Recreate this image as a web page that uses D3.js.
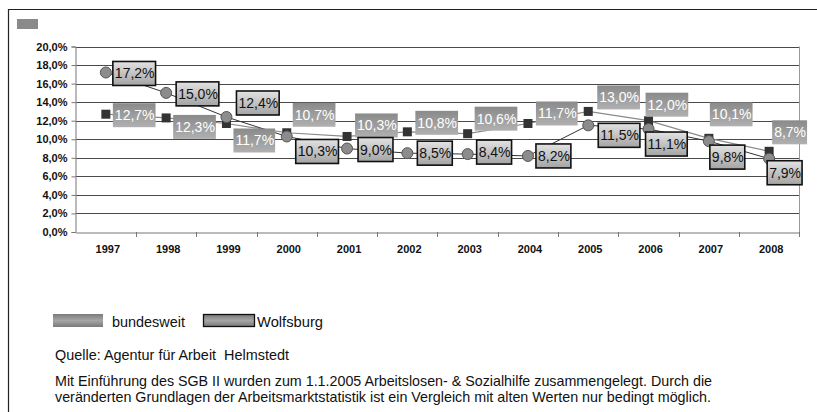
<!DOCTYPE html>
<html>
<head>
<meta charset="utf-8">
<script src="https://cdn.jsdelivr.net/npm/d3@7"></script>
<style>
  body { margin: 0; background: #fff; }
  svg { display: block; font-family: "Liberation Sans", Arial, sans-serif; }
  .tick text { font-weight: bold; font-size: 11px; fill: #111; }
</style>
</head>
<body>
<script>
// data
var years = ["1997", "1998", "1999", "2000", "2001", "2002", "2003", "2004", "2005", "2006", "2007", "2008"];
var bundesweit = [12.7, 12.3, 11.7, 10.7, 10.3, 10.8, 10.6, 11.7, 13.0, 12.0, 10.1, 8.7];
var wolfsburg = [17.2, 15.0, 12.4, 10.3, 9.0, 8.5, 8.4, 8.2, 11.5, 11.1, 9.8, 7.9];
var yTicks = [0, 2, 4, 6, 8, 10, 12, 14, 16, 18, 20];

// label placement (box left offset, box centre offset) in px
var bundLabelPos = [[7, 1], [7, 9], [7, 17], [6, -18], [8, -11], [8, -9], [7, -15], [8, -10], [9, -14], [-3, -16], [1, -24], [3, -19]];
var wolfLabelPos = [[7, 1], [10, 1], [10, -14], [9, 15], [11, 1], [10, 0], [9, -2], [8, 0], [10, 10], [-3, 15], [1, 16], [-2, 14]];

const w = 817;
const h = 412;

var svg = d3.select("body").append("svg")
  .attr("width", w)
  .attr("height", h);

var defs = svg.append("defs");
function grad(id, c1, c2) {
  var g = defs.append("linearGradient").attr("id", id)
    .attr("x1", 0).attr("y1", 0).attr("x2", 0).attr("y2", 1);
  g.append("stop").attr("offset", "0%").attr("stop-color", c1);
  g.append("stop").attr("offset", "100%").attr("stop-color", c2);
}
grad("gWolf", "#e2e2e2", "#a4a4a4");
grad("gBund", "#8a8a8a", "#b0b0b0");
var gs = defs.append("linearGradient").attr("id", "gSwatch")
  .attr("x1", 0).attr("y1", 0).attr("x2", 0).attr("y2", 1);
gs.append("stop").attr("offset", "0%").attr("stop-color", "#7a7a7a");
gs.append("stop").attr("offset", "50%").attr("stop-color", "#a6a6a6");
gs.append("stop").attr("offset", "100%").attr("stop-color", "#7a7a7a");

// outer frame (top and left edges only)
svg.append("path")
  .attr("d", "M8.5,412V9.5H817")
  .attr("fill", "none")
  .attr("stroke", "#222")
  .attr("stroke-width", 1.2);

svg.append("rect")
  .attr("x", 17).attr("y", 19).attr("width", 21).attr("height", 10)
  .attr("fill", "#8a8a8a");

var x = d3.scaleBand().domain(years).range([75.7, 799.3]);
var y = d3.scaleLinear().domain([0, 20]).range([232, 46.5]);

var de = d3.formatLocale({ decimal: ",", thousands: ".", grouping: [3], currency: ["", "€"] });
var pct = function (v) { return de.format(".1f")(v) + "%"; };

// grid
svg.append("g").selectAll("line").data(yTicks.slice(1)).join("line")
  .attr("x1", 75.7).attr("x2", 799.3)
  .attr("y1", function (d) { return Math.round(y(d)) + 0.5; })
  .attr("y2", function (d) { return Math.round(y(d)) + 0.5; })
  .attr("stroke", "#4a4a4a")
  .attr("stroke-width", 1);

svg.append("line")
  .attr("x1", 799.5).attr("x2", 799.5).attr("y1", y(20)).attr("y2", y(0))
  .attr("stroke", "#999");

// y axis
var yAxis = svg.append("g")
  .attr("transform", "translate(75.5,0)")
  .call(d3.axisLeft(y).tickValues(yTicks).tickSize(4).tickPadding(4)
    .tickFormat(function (d) { return pct(d); }));
yAxis.selectAll("path, line").attr("stroke", "#777");

// x axis
var xAxis = svg.append("g")
  .attr("transform", "translate(0,232.5)")
  .call(d3.axisBottom(x).tickSize(0).tickPadding(13));
xAxis.select("path").attr("stroke", "#777");
xAxis.selectAll("text").attr("dx", 2);
svg.append("g").selectAll("line").data(years).join("line")
  .attr("x1", function (d) { return Math.round(x(d) + x.bandwidth()) + 0.5; })
  .attr("x2", function (d) { return Math.round(x(d) + x.bandwidth()) + 0.5; })
  .attr("y1", 232).attr("y2", 237)
  .attr("stroke", "#777");

function px(i) { return x(years[i]) + x.bandwidth() / 2; }

var line = d3.line()
  .x(function (d, i) { return px(i); })
  .y(function (d) { return y(d); });

svg.append("path").datum(bundesweit)
  .attr("d", line).attr("fill", "none")
  .attr("stroke", "#8a8a8a").attr("stroke-width", 1.2);
svg.append("path").datum(wolfsburg)
  .attr("d", line).attr("fill", "none")
  .attr("stroke", "#333").attr("stroke-width", 1);

svg.append("g").selectAll("rect").data(bundesweit).join("rect")
  .attr("x", function (d, i) { return px(i) - 4.5; })
  .attr("y", function (d) { return y(d) - 4.5; })
  .attr("width", 9).attr("height", 9)
  .attr("fill", "#333");

svg.append("g").selectAll("circle").data(wolfsburg).join("circle")
  .attr("cx", function (d, i) { return px(i); })
  .attr("cy", function (d) { return y(d); })
  .attr("r", 5.5)
  .attr("fill", "#8c8c8c")
  .attr("stroke", "#555")
  .attr("stroke-width", 1);

// data labels
function labels(data, pos, fillId, textColor, border) {
  var g = svg.append("g").selectAll("g").data(data).join("g")
    .attr("transform", function (d, i) {
      return "translate(" + (px(i) + pos[i][0]) + "," + (y(d) + pos[i][1]) + ")";
    });
  g.append("text")
    .attr("x", 2).attr("y", 5)
    .attr("font-size", "14px")
    .attr("fill", textColor)
    .text(function (d) { return pct(d); });
  g.insert("rect", "text")
    .attr("x", 0).attr("y", -12)
    .attr("width", function () { return this.parentNode.querySelector("text").getComputedTextLength() + 3; })
    .attr("height", 24)
    .attr("fill", "url(#" + fillId + ")")
    .attr("stroke", border ? "#111" : "none")
    .attr("stroke-width", 1.6);
}
labels(bundesweit, bundLabelPos, "gBund", "#fff", false);
labels(wolfsburg, wolfLabelPos, "gWolf", "#111", true);

// legend
svg.append("rect")
  .attr("x", 53).attr("y", 314).attr("width", 50).attr("height", 13)
  .attr("fill", "url(#gSwatch)");
svg.append("text")
  .attr("x", 112).attr("y", 327)
  .attr("font-size", "15px").attr("fill", "#111")
  .attr("textLength", 73).attr("lengthAdjust", "spacingAndGlyphs")
  .text("bundesweit");
svg.append("rect")
  .attr("x", 203.5).attr("y", 314.5).attr("width", 51).attr("height", 12)
  .attr("fill", "url(#gSwatch)")
  .attr("stroke", "#111").attr("stroke-width", 1.3);
svg.append("text")
  .attr("x", 257).attr("y", 327)
  .attr("font-size", "15px").attr("fill", "#111")
  .attr("textLength", 66).attr("lengthAdjust", "spacingAndGlyphs")
  .text("Wolfsburg");

// notes
var notes = [
  ["Quelle: Agentur für Arbeit  Helmstedt", 360, 234],
  ["Mit Einführung des SGB II wurden zum 1.1.2005 Arbeitslosen- & Sozialhilfe zusammengelegt. Durch die", 386, 657],
  ["veränderten Grundlagen der Arbeitsmarktstatistik ist ein Vergleich mit alten Werten nur bedingt möglich.", 402, 656]
];
svg.append("g").selectAll("text").data(notes).join("text")
  .attr("x", 55)
  .attr("y", function (d) { return d[1]; })
  .attr("font-size", "14.5px").attr("fill", "#111")
  .attr("textLength", function (d) { return d[2]; })
  .attr("lengthAdjust", "spacingAndGlyphs")
  .style("white-space", "pre")
  .text(function (d) { return d[0]; });
</script>
</body>
</html>
